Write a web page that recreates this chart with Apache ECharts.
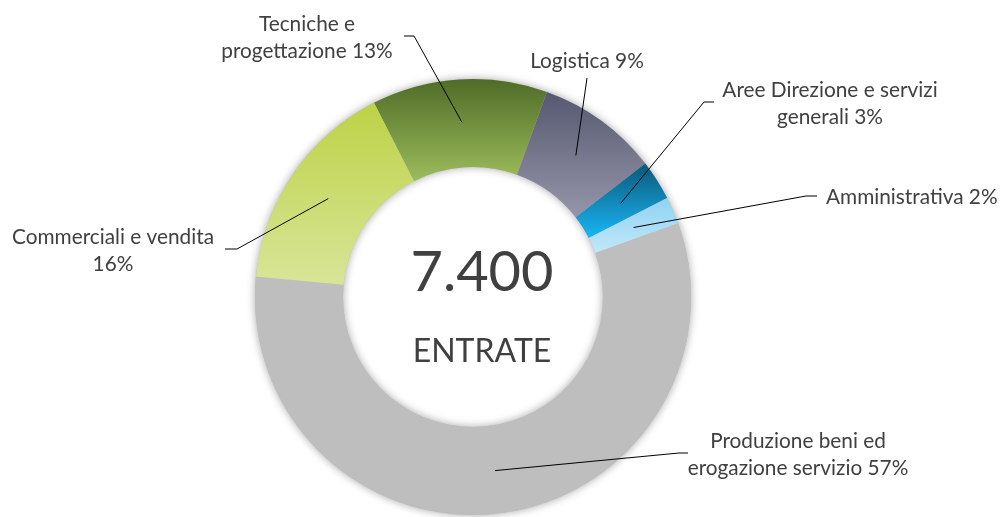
<!DOCTYPE html>
<html><head><meta charset="utf-8">
<script src="https://cdn.jsdelivr.net/npm/echarts@6/dist/echarts.min.js"></script>
<style>html,body{margin:0;padding:0;background:#fff}#c{width:1001px;height:517px}</style>
</head><body><div id="c"></div>
<script>
// ---- data ----
const categories = ['Tecniche e\nprogettazione', 'Logistica', 'Aree Direzione e servizi\ngenerali', 'Amministrativa', 'Produzione beni ed\nerogazione servizio', 'Commerciali e vendita\n'];
const values = [13, 9, 3, 2, 57, 16];
const totalLabel = '7.400';
const centerCaption = 'ENTRATE';

// ---- styles ----
const topColors = ['#4f6b28', '#565870', '#0a5878', '#8fd3f3', '#bebebe', '#bdd246'];
const bottomColors = ['#9cbd5b', '#9696aa', '#1ab6f6', '#c2e7f8', '#bebebe', '#d8e598'];
const labelAnchors = [
  {x: 307, y: 38, align: 'center', elbow: [414, 36], end: [404, 36]},
  {x: 587, y: 61, align: 'center', elbow: [587, 78], end: [587, 78]},
  {x: 830, y: 104, align: 'center', elbow: [704, 102], end: [714, 102]},
  {x: 826, y: 197, align: 'left', elbow: [806, 196], end: [817, 196]},
  {x: 798, y: 455, align: 'center', elbow: [679, 453], end: [688, 453]},
  {x: 113, y: 251, align: 'center', elbow: [237, 249], end: [225, 249]}
];
const FONT = 'Lato';
const CX = 473, CY = 297, R_IN = 130, R_OUT = 218, R_LINE = 175, START = 117;

const ringData = categories.map((c, i) => ({
  name: c, value: values[i],
  itemStyle: {color: {type: 'linear', x: 0, y: 0, x2: 0, y2: 1,
    colorStops: [{offset: 0, color: topColors[i]}, {offset: 1, color: bottomColors[i]}]}}
}));
const labelData = categories.map((c, i) => ({name: c, value: values[i]}));
const totalValue = values.reduce((a, b) => a + b, 0);

const chart = echarts.init(document.getElementById('c'), null, {renderer: 'canvas'});
chart.setOption({
  animation: false,
  backgroundColor: '#fff',
  series: [
    { // shadow backing ring
      type: 'pie', silent: true, z: 1,
      center: [CX, CY], radius: [R_IN, R_OUT],
      label: {show: false}, labelLine: {show: false},
      itemStyle: {color: '#bebebe', shadowBlur: 8, shadowColor: 'rgba(0,0,0,0.35)'},
      data: [{name: 'total', value: totalValue}]
    },
    {
      type: 'pie', silent: true, z: 2,
      center: [CX, CY], radius: [R_IN, R_OUT],
      startAngle: START, clockwise: true,
      label: {show: false}, labelLine: {show: false},
      itemStyle: {borderWidth: 0},
      data: ringData
    },
    {
      type: 'pie', silent: true, z: 3,
      center: [CX, CY], radius: [0, R_LINE],
      startAngle: START, clockwise: true,
      avoidLabelOverlap: false,
      itemStyle: {color: 'transparent'},
      label: {
        show: true, position: 'outside',
        color: '#404040', fontFamily: FONT, fontSize: 20.8, lineHeight: 27,
        formatter: p => p.name.endsWith('\n') ? p.name + p.percent + '%' : p.name + ' ' + p.percent + '%'
      },
      labelLine: {show: true, length: 10, length2: 10, smooth: false,
        lineStyle: {color: '#000', width: 1}},
      labelLayout: function (p) {
        const a = labelAnchors[p.dataIndex];
        const out = {x: a.x, y: a.y, align: a.align, verticalAlign: 'middle'};
        if (p.labelLinePoints && p.labelLinePoints.length) {
          out.labelLinePoints = [p.labelLinePoints[0], a.elbow, a.end];
        }
        return out;
      },
      data: labelData
    }
  ],
  graphic: [
    {type: 'text', z: 10,
      style: {text: totalLabel, x: 482, y: 273, align: 'center', verticalAlign: 'middle',
        font: '56px ' + FONT, fill: '#404040'}},
    {type: 'text', z: 10,
      style: {text: centerCaption, x: 482, y: 352, align: 'center', verticalAlign: 'middle',
        font: '32px ' + FONT, fill: '#404040'}}
  ]
});
</script>
</body></html>
